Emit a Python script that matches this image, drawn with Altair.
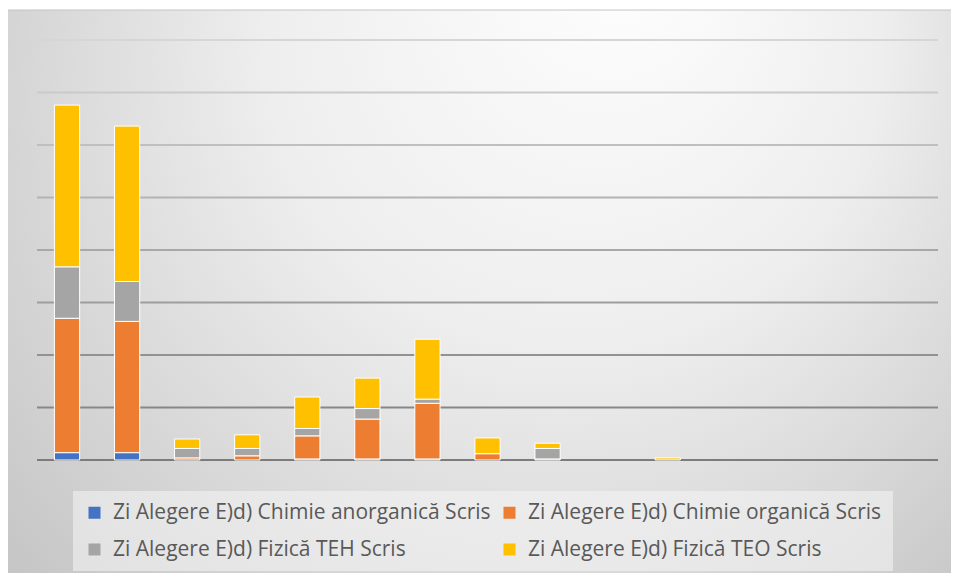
import altair as alt
import pandas as pd

# ---- data ----
categories = [f"C{i}" for i in range(1, 16)]
series = [
    "Zi Alegere E)d) Chimie anorganică Scris",
    "Zi Alegere E)d) Chimie organică Scris",
    "Zi Alegere E)d) Fizică TEH Scris",
    "Zi Alegere E)d) Fizică TEO Scris",
]
anorganica = [7, 7, 0, 0, 1, 1, 1, 0, 0, 0, 0, 0, 0, 0, 0]
organica = [128, 125, 2, 4, 22, 38, 53, 6, 1, 0, 0, 0, 0, 0, 0]
fizica_teh = [49, 38, 9, 7, 7, 10, 4, 0, 10, 0, 0, 0, 0, 0, 0]
fizica_teo = [154, 148, 9, 13, 30, 29, 57, 15, 5, 0, 2, 0, 0, 0, 0]
grid_values = [0, 50, 100, 150, 200, 250, 300, 350, 400]

colors = ["#4472C4", "#ED7D31", "#A5A5A5", "#FFC000"]

rows = []
for idx, (name, vals) in enumerate(zip(series, [anorganica, organica, fizica_teh, fizica_teo])):
    for cat, v in zip(categories, vals):
        if v > 0:
            rows.append({"cat": cat, "series": name, "value": v, "idx": idx})
df = pd.DataFrame(rows)
grid_df = pd.DataFrame({"v": grid_values})

W, H = 901, 420

gradient = alt.RadialGradient(
    gradient="radial",
    stops=[
        alt.GradientStop(offset=0, color="#ffffff"),
        alt.GradientStop(offset=0.45, color="#eeeeee"),
        alt.GradientStop(offset=1, color="#c2c2c2"),
    ],
    x1=0.66, y1=0.12, r1=0,
    x2=0.52, y2=0.35, r2=0.72,
)

bg = alt.Chart(alt.Data(values=[{}])).mark_rect(
    fill=gradient, stroke="#c4c4c4", strokeWidth=1
).encode(
    x=alt.value(-31), x2=alt.value(W + 19),
    y=alt.value(-30), y2=alt.value(H + 125),
)

grid = alt.Chart(grid_df).mark_rule(strokeWidth=2).encode(
    y=alt.Y("v:Q", scale=alt.Scale(domain=[0, 400], nice=False)),
    stroke=alt.Stroke("v:Q", scale=alt.Scale(domain=[0, 400], range=["#7c7c7c", "#d6d6d6"]), legend=None),
)

bars = alt.Chart(df).mark_bar(stroke="white", strokeWidth=1).encode(
    x=alt.X(
        "cat:N", sort=categories,
        scale=alt.Scale(domain=categories, paddingInner=0.58, paddingOuter=0.29),
        axis=alt.Axis(labels=False, ticks=False, domain=False, title=None, grid=False),
    ),
    y=alt.Y(
        "value:Q", stack="zero",
        scale=alt.Scale(domain=[0, 400], nice=False),
        axis=alt.Axis(labels=False, ticks=False, domain=False, title=None, grid=False),
    ),
    color=alt.Color(
        "series:N",
        scale=alt.Scale(domain=series, range=colors),
        legend=alt.Legend(
            orient="none", legendX=36, legendY=451, columns=2, direction="horizontal",
            title=None,
            symbolType="square", symbolSize=144, symbolStrokeWidth=0,
            labelFont="Open Sans", labelFontSize=21, labelColor="#595959", labelLimit=0,
            labelOffset=8, columnPadding=8, rowPadding=15, padding=11,
            fillColor="rgba(246,246,246,0.55)",
        ),
    ),
    order=alt.Order("idx:Q", sort="ascending"),
)

chart = alt.layer(bg, grid, bars).properties(
    width=W, height=H,
    autosize=alt.AutoSizeParams(type="none"),
    padding={"left": 29, "top": 32, "right": 13, "bottom": 113},
).configure(background="white").configure_view(stroke=None)

chart.save("out.html", embed_options={"renderer": "svg", "actions": False})
